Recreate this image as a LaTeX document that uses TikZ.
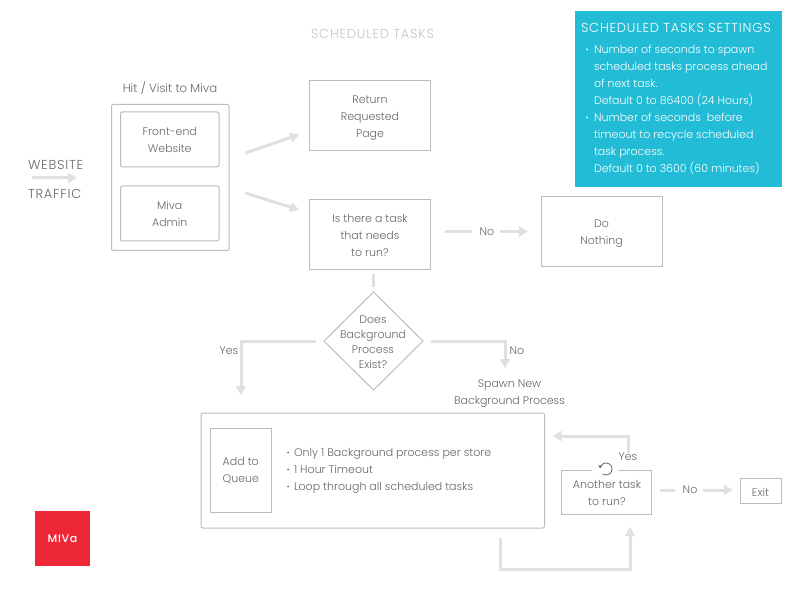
\documentclass[tikz,border=0pt]{standalone}
\usepackage{fontspec}
\setmainfont{Poppins Light}
\newfontfamily\capsfont[LetterSpace=6]{Poppins Light}
\newfontfamily\logofont[LetterSpace=6]{Poppins Medium}
\usetikzlibrary{arrows.meta,shapes.geometric,calc}
\definecolor{linegray}{HTML}{BCBCBC}
\definecolor{flowgray}{HTML}{E0E0E0}
\definecolor{textgray}{HTML}{666666}
\definecolor{titlegray}{HTML}{C4C4C4}
\definecolor{panelblue}{HTML}{22BCD6}
\definecolor{mivared}{HTML}{EE2737}
\newcommand{\lowerline}{\rule{0pt}{11pt}}
\tikzset{
  x=1pt,y=-1pt,
  every node/.style={font=\fontsize{11}{17}\selectfont,text=textgray,inner sep=0pt,outer sep=0pt},
  boxnode/.style={draw=linegray,line width=1pt,align=center,anchor=north west},
  roundbox/.style={boxnode,rounded corners=2pt},
  label/.style={align=center},
  capstext/.style={font=\capsfont\fontsize{13}{17}\selectfont},
  flow/.style={draw=flowgray,line width=3pt,-{Triangle[length=9pt,width=10pt]}},
  flowplain/.style={draw=flowgray,line width=3pt},
  listtext/.style={align=left,anchor=north west},
}
\begin{document}
\begin{tikzpicture}
\useasboundingbox (0,0) rectangle (792,612);
% title
\node[label,capstext,text=titlegray] (title) at (372.5,33.5) {SCHEDULED TASKS};
% settings
\node[fill=panelblue,minimum width=207pt,minimum height=176pt,anchor=north west] (panel) at (575,11) {};
\node[listtext,capstext,text=white,anchor=west] (panelhead) at (581,27.5) {SCHEDULED TASKS SETTINGS};
\node[listtext,text=white] (panelbody) at (594,45.5) {Number of seconds to spawn\\scheduled tasks process ahead\\of next task.\\Default 0 to 86400 (24 Hours)\\Number of seconds\ \ before\\timeout to recycle scheduled\\task process.\\Default 0 to 3600 (60 minutes)};
\fill[white] (587,49.5) circle (1pt) (587,117.5) circle (1pt);
% traffic
\node[label,capstext,anchor=west] (web) at (28,165) {WEBSITE};
\node[label,capstext,anchor=west] (traf) at (28,193.5) {TRAFFIC};
\coordinate (trafa) at (32,178);
\coordinate (trafb) at (77,178);
\draw[flow] (trafa) -- (trafb);
% hit
\node[label,font=\fontsize{11.7}{17}\selectfont] (hit) at (170,87.5) {Hit / Visit to Miva};
\node[roundbox,minimum width=117.5pt,minimum height=146pt] (outer) at (111.5,104.5) {};
\node[roundbox,minimum width=98.5pt,minimum height=55pt] (front) at (120.5,112) {Front-end\\Website};
\node[roundbox,minimum width=98.5pt,minimum height=55pt] (admin) at (120.5,186) {Miva\\Admin};
% right boxes
\node[boxnode,minimum width=121pt,minimum height=70pt] (ret) at (309.5,81) {\lowerline Return\\Requested\\Page};
\node[boxnode,minimum width=121pt,minimum height=70pt] (task) at (309.5,200) {\rule{0pt}{10pt}Is there a task\\that needs\\to run?};
\node[boxnode,minimum width=121pt,minimum height=70pt] (nothing) at (541,197) {\lowerline Do\\Nothing};
% diamond
\node[diamond,draw=linegray,line width=1pt,minimum width=99pt,minimum height=98pt] (dia) at (373.5,341) {};
\node[label,font=\fontsize{11}{15}\selectfont] (diatext) at (373,342) {Does\\Background\\Process\\Exist?};
% big box
\node[roundbox,minimum width=343.5pt,minimum height=115pt] (big) at (201,413) {};
\node[boxnode,minimum width=61.5pt,minimum height=84pt] (queue) at (210,428.5) {Add to\\Queue};
\node[listtext] (bullets) at (294,448.5) {Only 1 Background process per store\\1 Hour Timeout\\Loop through all scheduled tasks};
\fill[textgray] (288,452.5) circle (1pt) (288,469.5) circle (1pt) (288,486.5) circle (1pt);
% another
\node[boxnode,minimum width=90.5pt,minimum height=44pt] (another) at (561,470.5) {};
\node[label] (anothertext) at (607,492.5) {Another task\\to run?};
\fill[white] (592,468) rectangle (618,473);
\draw[textgray,line width=.8pt,-{Stealth[length=3.5pt,width=4pt]}] (602.56,473.9) arc[start angle=125,end angle=-175,radius=6];
\node[boxnode,minimum width=41pt,minimum height=25pt] (exit) at (740,478) {\lowerline Exit};
% labels
\node[label] (nol) at (487,231.5) {No};
\node[label] (yesl) at (229,351) {Yes};
\node[label] (nor) at (517,351) {No};
\node[label] (spawn) at (509.5,391.5) {\rule{0pt}{11pt}Spawn New\\Background Process};
\node[label] (yesa) at (628,457) {Yes};
\node[label] (noa) at (690,490) {No};
% connectors
\draw[flow,shorten <=17pt,shorten >=11pt] ($(outer.east)+(0,-18.8)$) -- ($(ret.west)+(0,15)$);
\draw[flow,shorten <=17pt,shorten >=11pt] ($(outer.east)+(0,10.5)$) -- ($(task.west)+(0,-22)$);
\draw[flowplain,shorten <=14pt,shorten >=8pt] (task.east |- nol.west) -- (nol.west);
\draw[flow,shorten <=6pt,shorten >=13pt] (nol.east) -- (nothing.west |- nol.east);
\draw[flowplain,shorten <=4.5pt,shorten >=5pt] (dia.north |- task.south) -- (dia.north);
\draw[flow,shorten <=8pt,shorten >=18pt] (dia.west) -| ($(big.north west)+(40,0)$);
\coordinate (spawntop) at (505,376);
\draw[flow,shorten <=8pt,shorten >=8pt] (dia.east) -| (spawntop);
\coordinate (bigout) at (500,528);
\coordinate (bigbot) at (630,569);
\draw[flow,shorten <=10pt,shorten >=12.5pt] (bigout) |- (bigbot) -- (another.south -| bigbot);
\draw[flow,shorten <=0pt,shorten >=8pt] (yesa.north) |- (big.east |- 0,436);
\draw[flowplain,shorten <=8pt,shorten >=8pt] (another.east |- noa.west) -- (noa.west);
\draw[flow,shorten <=6pt,shorten >=7pt] (noa.east) -- (exit.west |- noa.east);
% logo
\node[fill=mivared,minimum width=55pt,minimum height=55pt,anchor=north west] (logo) at (35,511) {};
\node[text=white,font=\logofont\fontsize{11}{12}\selectfont] (logotext) at (62.5,538.5) {MIVa};
\end{tikzpicture}
\end{document}
